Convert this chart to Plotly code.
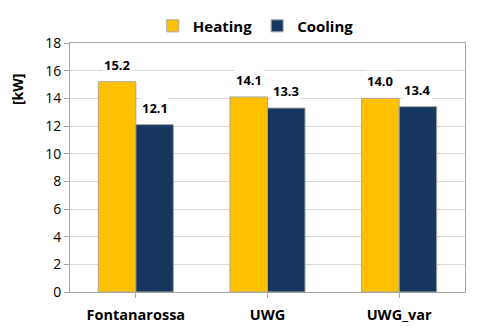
import plotly.graph_objects as go

categories = ["Fontanarossa", "UWG", "UWG_var"]
heating = [15.2, 14.1, 14.0]
cooling = [12.1, 13.3, 13.4]
yticks = [0, 2, 4, 6, 8, 10, 12, 14, 16, 18]

HEAT = "#FFC000"
COOL = "#17375E"
FONT = "Open Sans"

fig = go.Figure()
fig.add_bar(name="<b>Heating</b>", x=categories, y=heating, marker=dict(color=HEAT, line=dict(color="#A6A6A6", width=1)))
fig.add_bar(name="<b>Cooling</b>", x=categories, y=cooling, marker=dict(color=COOL, line=dict(color="#A6A6A6", width=1)))

bw = 37.5
for i, c in enumerate(categories):
    for val, shift in ((heating[i], -bw / 2), (cooling[i], bw / 2)):
        fig.add_annotation(x=c, y=val, text=f"<b>{val:.1f}</b>", showarrow=False,
                           xshift=shift, yshift=6, yanchor="bottom", bgcolor="white",
                           font=dict(family=FONT, size=13, color="black"), borderpad=1)

fig.add_annotation(xref="paper", yref="paper", x=-53 / 395, y=0.815, text="<b>[kW]</b>",
                   textangle=-90, showarrow=False, xanchor="center", yanchor="middle",
                   font=dict(family=FONT, size=14, color="black"))

fig.update_layout(
    width=472, height=322,
    margin=dict(l=62, r=15, t=35, b=38, autoexpand=False),
    paper_bgcolor="white", plot_bgcolor="white",
    barmode="group", bargap=0.43, bargroupgap=0,
    font=dict(family=FONT, color="black"),
    showlegend=True,
    legend=dict(orientation="h", xref="container", x=0.525, xanchor="center",
                yref="container", y=0.995, yanchor="top",
                font=dict(family=FONT, size=15), itemwidth=30,
                traceorder="normal", bgcolor="rgba(0,0,0,0)"),
    xaxis=dict(showline=True, linecolor="#A6A6A6", mirror=True, ticks="outside",
               tickcolor="#A6A6A6", ticklen=5, automargin=False, ticklabelstandoff=5,
               tickfont=dict(family=FONT, size=14.5), tickprefix="<b>", ticksuffix="</b>"),
    yaxis=dict(range=[0, 18], tickvals=yticks, showline=True, linecolor="#A6A6A6", mirror=True,
               gridcolor="#D9D9D9", ticks="outside", tickcolor="#A6A6A6", ticklen=5,
               automargin=False, tickfont=dict(family=FONT, size=14)),
)
fig.write_html("out.html")
